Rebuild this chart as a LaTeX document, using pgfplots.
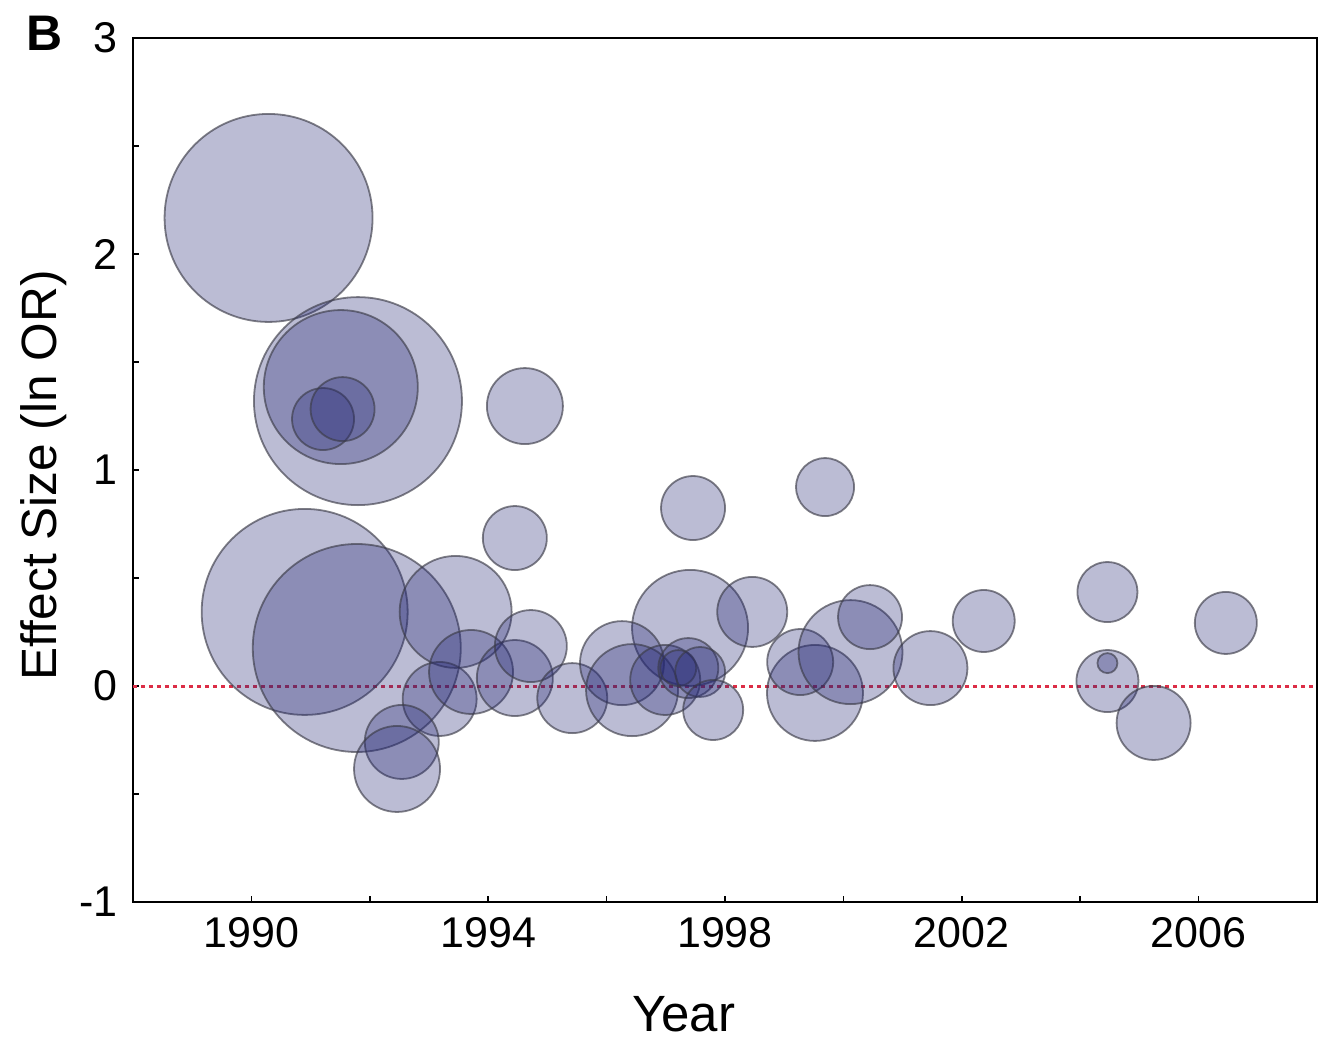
\documentclass[border=0pt]{standalone}
\usepackage{pgfplots}
\pgfplotsset{compat=1.18}
\usepackage{pgfplotstable}
\usepackage{fontspec}
\setmainfont{Liberation Sans}
\definecolor{circfill}{RGB}{36,39,116}
\definecolor{circedge}{RGB}{60,60,72}
\definecolor{zeroline}{RGB}{220,45,70}
\pgfplotstableread{
yr y r
1990.29 2.167 52
1991.80 1.319 52
1991.51 1.384 38.5
1991.21 1.236 15.5
1991.54 1.282 16
1990.90 0.343 51.5
1991.78 0.176 52
1993.45 0.343 28
1993.18 -0.060 18.5
1993.71 0.065 21
1994.45 0.037 19
1994.72 0.185 18
1995.42 -0.056 17.5
1992.54 -0.259 18.5
1992.46 -0.384 21.5
1994.45 0.685 16
1994.62 1.296 19
1997.41 0.269 29
1996.26 0.106 21
1996.43 -0.019 23
1996.99 0.028 17.5
1997.38 0.083 15
1997.21 0.083 9
1997.58 0.065 12.5
1997.80 -0.111 15
1998.46 0.343 17.5
1997.46 0.824 16
1999.69 0.921 14.5
1999.52 -0.032 24
1999.27 0.111 16.5
2000.12 0.157 26
2000.45 0.319 16
2001.47 0.083 18.5
2002.37 0.301 15.5
2004.46 0.435 15
2004.46 0.023 15.5
2004.46 0.106 5
2005.24 -0.171 18.5
2006.46 0.292 15.5
}\bubbles
\begin{document}
\begin{tikzpicture}
\useasboundingbox (-66.5pt,-69.5pt) rectangle (599.5pt,451pt);
\begin{axis}[
  at={(0,0)}, anchor=south west,
  scale only axis, width=592pt, height=432pt,
  xmin=1988, xmax=2008, ymin=-1, ymax=3,
  xtick={1990,1994,1998,2002,2006},
  xticklabels={1990,1994,1998,2002,2006},
  minor xtick={1992,1996,2000,2004},
  ytick={-1,0,1,2,3},
  yticklabels={-1,0,1,2,3},
  minor ytick={-0.5,0.5,1.5,2.5},
  xtick pos=left, ytick pos=left,
  tick align=inside,
  major tick length=3pt, minor tick length=3pt,
  every tick/.style={black, line width=0.8pt},
  axis line style={line width=1.2pt},
  tick label style={font=\fontsize{21.5}{26}\selectfont, inner sep=0pt},
  xticklabel shift=7.5pt, yticklabel shift=7.5pt,
  xlabel={Year},
  xlabel style={at={(axis description cs:0.465,-0.109)}, anchor=north, inner sep=0pt, font=\fontsize{25.5}{30}\selectfont},
  ylabel={Effect Size (ln OR)},
  ylabel style={at={(axis description cs:-0.0755,0.494)}, anchor=center, inner sep=0pt, font=\fontsize{24.8}{29}\selectfont},
]
\addplot[zeroline, line width=1.5pt, dash pattern=on 2pt off 2pt] coordinates {(1988,0) (2008,0)};
\addplot[scatter, only marks, mark=*,
  scatter/use mapped color={draw=circedge, fill=circfill},
  mark options={fill opacity=0.31, draw opacity=0.65, line width=0.9pt},
  visualization depends on={\thisrow{r}\as\rr},
  scatter/@pre marker code/.append style={/tikz/mark size=\rr pt},
] table[x=yr, y=y] {\bubbles};
\end{axis}
\node[anchor=north west, inner sep=0pt, font=\bfseries\fontsize{25}{30}\selectfont] at (-53.5pt,443pt) {B};
\end{tikzpicture}
\end{document}
